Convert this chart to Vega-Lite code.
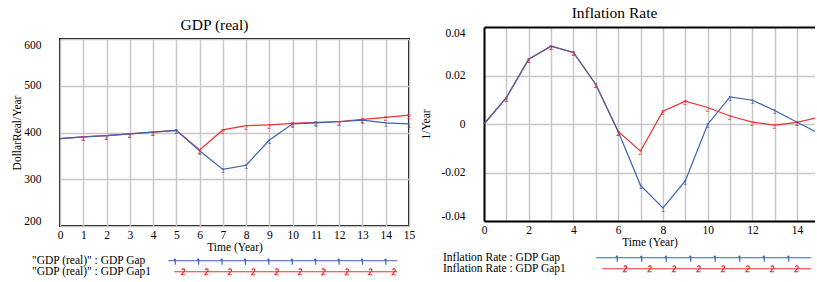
{
  "$schema": "https://vega.github.io/schema/vega-lite/v6.json",
  "padding": {"left": 10, "top": 5, "right": 0, "bottom": 0},
  "config": {
    "font": "Liberation Serif",
    "view": {"stroke": "#000", "strokeWidth": 2},
    "style": {
      "guide-label": {"font": "Liberation Serif", "fontSize": 11.5, "fill": "#000"},
      "guide-title": {"font": "Liberation Serif", "fontSize": 11.5, "fontWeight": "normal", "fill": "#000"}
    },
    "axis": {"labelFont": "Liberation Serif", "labelFontSize": 11.5, "labelColor": "#000", "titleFont": "Liberation Serif", "titleFontSize": 11.5, "titleFontWeight": "normal", "titleColor": "#000", "gridColor": "#c8c8c8", "gridWidth": 1.5, "gridOpacity": 1, "domain": false, "ticks": false},
    "legend": {"labelFont": "Liberation Serif", "labelFontSize": 11.5, "labelColor": "#000", "padding": 0, "labelLimit": 300},
    "title": {"font": "Liberation Serif", "fontSize": 15.5, "fontWeight": "normal", "color": "#000"}
  },
  "datasets": {
    "gdp": [
      {"t": 0, "run": "Gap", "series": "\"GDP (real)\" : GDP Gap", "v": 387},
      {"t": 1, "run": "Gap", "series": "\"GDP (real)\" : GDP Gap", "v": 390.5},
      {"t": 2, "run": "Gap", "series": "\"GDP (real)\" : GDP Gap", "v": 393.5},
      {"t": 3, "run": "Gap", "series": "\"GDP (real)\" : GDP Gap", "v": 397},
      {"t": 4, "run": "Gap", "series": "\"GDP (real)\" : GDP Gap", "v": 401},
      {"t": 5, "run": "Gap", "series": "\"GDP (real)\" : GDP Gap", "v": 404.5},
      {"t": 6, "run": "Gap", "series": "\"GDP (real)\" : GDP Gap", "v": 361},
      {"t": 7, "run": "Gap", "series": "\"GDP (real)\" : GDP Gap", "v": 321},
      {"t": 8, "run": "Gap", "series": "\"GDP (real)\" : GDP Gap", "v": 330},
      {"t": 9, "run": "Gap", "series": "\"GDP (real)\" : GDP Gap", "v": 384},
      {"t": 10, "run": "Gap", "series": "\"GDP (real)\" : GDP Gap", "v": 418.5},
      {"t": 11, "run": "Gap", "series": "\"GDP (real)\" : GDP Gap", "v": 420.5},
      {"t": 12, "run": "Gap", "series": "\"GDP (real)\" : GDP Gap", "v": 423},
      {"t": 13, "run": "Gap", "series": "\"GDP (real)\" : GDP Gap", "v": 426.5},
      {"t": 14, "run": "Gap", "series": "\"GDP (real)\" : GDP Gap", "v": 420.5},
      {"t": 15, "run": "Gap", "series": "\"GDP (real)\" : GDP Gap", "v": 418.5},
      {"t": 0, "run": "Gap1", "series": "\"GDP (real)\" : GDP Gap1", "v": 387},
      {"t": 1, "run": "Gap1", "series": "\"GDP (real)\" : GDP Gap1", "v": 390.5},
      {"t": 2, "run": "Gap1", "series": "\"GDP (real)\" : GDP Gap1", "v": 393.5},
      {"t": 3, "run": "Gap1", "series": "\"GDP (real)\" : GDP Gap1", "v": 397},
      {"t": 4, "run": "Gap1", "series": "\"GDP (real)\" : GDP Gap1", "v": 401},
      {"t": 5, "run": "Gap1", "series": "\"GDP (real)\" : GDP Gap1", "v": 404.5},
      {"t": 6, "run": "Gap1", "series": "\"GDP (real)\" : GDP Gap1", "v": 362.5},
      {"t": 7, "run": "Gap1", "series": "\"GDP (real)\" : GDP Gap1", "v": 405.5},
      {"t": 8, "run": "Gap1", "series": "\"GDP (real)\" : GDP Gap1", "v": 414.5},
      {"t": 9, "run": "Gap1", "series": "\"GDP (real)\" : GDP Gap1", "v": 416.5},
      {"t": 10, "run": "Gap1", "series": "\"GDP (real)\" : GDP Gap1", "v": 419.5},
      {"t": 11, "run": "Gap1", "series": "\"GDP (real)\" : GDP Gap1", "v": 421.5},
      {"t": 12, "run": "Gap1", "series": "\"GDP (real)\" : GDP Gap1", "v": 423.5},
      {"t": 13, "run": "Gap1", "series": "\"GDP (real)\" : GDP Gap1", "v": 428},
      {"t": 14, "run": "Gap1", "series": "\"GDP (real)\" : GDP Gap1", "v": 432.5},
      {"t": 15, "run": "Gap1", "series": "\"GDP (real)\" : GDP Gap1", "v": 437}
    ],
    "infl": [
      {"t": 0, "run": "Gap", "series": "Inflation Rate : GDP Gap", "v": 0},
      {"t": 1, "run": "Gap", "series": "Inflation Rate : GDP Gap", "v": 0.0109},
      {"t": 2, "run": "Gap", "series": "Inflation Rate : GDP Gap", "v": 0.0267},
      {"t": 3, "run": "Gap", "series": "Inflation Rate : GDP Gap", "v": 0.0321},
      {"t": 4, "run": "Gap", "series": "Inflation Rate : GDP Gap", "v": 0.0295},
      {"t": 5, "run": "Gap", "series": "Inflation Rate : GDP Gap", "v": 0.0163},
      {"t": 6, "run": "Gap", "series": "Inflation Rate : GDP Gap", "v": -0.0031},
      {"t": 7, "run": "Gap", "series": "Inflation Rate : GDP Gap", "v": -0.0253},
      {"t": 8, "run": "Gap", "series": "Inflation Rate : GDP Gap", "v": -0.0346},
      {"t": 9, "run": "Gap", "series": "Inflation Rate : GDP Gap", "v": -0.0235},
      {"t": 10, "run": "Gap", "series": "Inflation Rate : GDP Gap", "v": -0.0002},
      {"t": 11, "run": "Gap", "series": "Inflation Rate : GDP Gap", "v": 0.0112},
      {"t": 12, "run": "Gap", "series": "Inflation Rate : GDP Gap", "v": 0.0098},
      {"t": 13, "run": "Gap", "series": "Inflation Rate : GDP Gap", "v": 0.0056},
      {"t": 14, "run": "Gap", "series": "Inflation Rate : GDP Gap", "v": 0.0007},
      {"t": 15, "run": "Gap", "series": "Inflation Rate : GDP Gap", "v": -0.004},
      {"t": 0, "run": "Gap1", "series": "Inflation Rate : GDP Gap1", "v": 0},
      {"t": 1, "run": "Gap1", "series": "Inflation Rate : GDP Gap1", "v": 0.0109},
      {"t": 2, "run": "Gap1", "series": "Inflation Rate : GDP Gap1", "v": 0.0267},
      {"t": 3, "run": "Gap1", "series": "Inflation Rate : GDP Gap1", "v": 0.0321},
      {"t": 4, "run": "Gap1", "series": "Inflation Rate : GDP Gap1", "v": 0.0295},
      {"t": 5, "run": "Gap1", "series": "Inflation Rate : GDP Gap1", "v": 0.0163},
      {"t": 6, "run": "Gap1", "series": "Inflation Rate : GDP Gap1", "v": -0.0031},
      {"t": 7, "run": "Gap1", "series": "Inflation Rate : GDP Gap1", "v": -0.0112},
      {"t": 8, "run": "Gap1", "series": "Inflation Rate : GDP Gap1", "v": 0.0053},
      {"t": 9, "run": "Gap1", "series": "Inflation Rate : GDP Gap1", "v": 0.0094},
      {"t": 10, "run": "Gap1", "series": "Inflation Rate : GDP Gap1", "v": 0.0068},
      {"t": 11, "run": "Gap1", "series": "Inflation Rate : GDP Gap1", "v": 0.0033},
      {"t": 12, "run": "Gap1", "series": "Inflation Rate : GDP Gap1", "v": 0.0008},
      {"t": 13, "run": "Gap1", "series": "Inflation Rate : GDP Gap1", "v": -0.0005},
      {"t": 14, "run": "Gap1", "series": "Inflation Rate : GDP Gap1", "v": 0.0007},
      {"t": 15, "run": "Gap1", "series": "Inflation Rate : GDP Gap1", "v": 0.0028}
    ]
  },
  "resolve": {"scale": {"color": "independent", "stroke": "independent"}, "legend": {"color": "independent", "stroke": "independent"}},
  "spacing": 4,
  "hconcat": [
    {
      "spacing": 4,
      "resolve": {"scale": {"color": "independent", "stroke": "independent"}, "legend": {"color": "independent", "stroke": "independent"}},
      "vconcat": [
        {
          "width": 349, "height": 1,
          "data": {"values": [{}]},
          "mark": {"type": "text", "text": ""},
          "view": {"stroke": null},
          "title": {"text": "GDP (real)", "dx": -20, "offset": -12}
        },
        {
          "width": 349, "height": 187,
          "data": {"name": "gdp"},
          "encoding": {
            "x": {"field": "t", "type": "quantitative", "scale": {"domain": [0, 15], "nice": false},
                  "axis": {"values": [0,1,2,3,4,5,6,7,8,9,10,11,12,13,14,15], "grid": true, "labelPadding": 3, "title": "Time (Year)", "titlePadding": 1, "labelFlush": false}},
            "y": {"field": "v", "type": "quantitative", "scale": {"domain": [200, 600], "nice": false, "zero": false},
                  "axis": {"values": [200,300,400,500,600], "grid": true, "labelPadding": 19, "labelFlush": true, "title": "DollarReal/Year", "titlePadding": 1}}
          },
          "layer": [
            {
              "transform": [{"filter": "datum.run == 'Gap1'"}],
              "mark": {"type": "line", "strokeWidth": 1.2},
              "encoding": {
                "color": {"field": "series", "type": "nominal", "scale": {"range": ["#ee3333"]},
                  "legend": {"orient": "none", "legendX": 220, "legendY": 227, "title": null, "symbolOffset": 0, "labelOffset": -259.5, "labelAlign": "left",
                    "symbolSize": 4, "symbolStrokeWidth": 1.2,
                    "symbolType": "M-111.5,0H111.5M-104,-1.8L-102.8,-3L-101.3,-2.6L-101.1,-1.2L-104.3,3L-100.7,3M-80.6,-1.8L-79.4,-3L-77.9,-2.6L-77.7,-1.2L-80.9,3L-77.3,3M-57.2,-1.8L-56,-3L-54.5,-2.6L-54.3,-1.2L-57.5,3L-53.9,3M-33.8,-1.8L-32.6,-3L-31.1,-2.6L-30.9,-1.2L-34.1,3L-30.5,3M-10.4,-1.8L-9.2,-3L-7.7,-2.6L-7.5,-1.2L-10.7,3L-7.1,3M13,-1.8L14.2,-3L15.7,-2.6L15.9,-1.2L12.7,3L16.3,3M36.4,-1.8L37.6,-3L39.1,-2.6L39.3,-1.2L36.1,3L39.7,3M59.8,-1.8L61,-3L62.5,-2.6L62.7,-1.2L59.5,3L63.1,3M83.2,-1.8L84.4,-3L85.9,-2.6L86.1,-1.2L82.9,3L86.5,3M106.6,-1.8L107.8,-3L109.3,-2.6L109.5,-1.2L106.3,3L109.9,3",
                    "encode": {"symbols": {"update": {"fill": {"value": "transparent"}}}}}}
              }
            },
            {
              "transform": [{"filter": "datum.run == 'Gap'"}],
              "mark": {"type": "line", "strokeWidth": 1.2},
              "encoding": {
                "stroke": {"field": "series", "type": "nominal", "scale": {"range": ["#3c62b0"]},
                  "legend": {"orient": "none", "legendX": 217, "legendY": 216, "title": null, "symbolOffset": 0, "labelOffset": -256.5, "labelAlign": "left",
                    "symbolSize": 4, "symbolStrokeWidth": 1.2,
                    "symbolType": "M-114.5,0H114.5M-107.5,-2V4M-108.8,-0.8L-107.5,-2M-84.1,-2V4M-85.4,-0.8L-84.1,-2M-60.7,-2V4M-62,-0.8L-60.7,-2M-37.3,-2V4M-38.6,-0.8L-37.3,-2M-13.9,-2V4M-15.2,-0.8L-13.9,-2M9.5,-2V4M8.2,-0.8L9.5,-2M32.9,-2V4M31.6,-0.8L32.9,-2M56.3,-2V4M55,-0.8L56.3,-2M79.7,-2V4M78.4,-0.8L79.7,-2M103.1,-2V4M101.8,-0.8L103.1,-2",
                    "encode": {"symbols": {"update": {"fill": {"value": "transparent"}}}}}}
              }
            },
            {
              "transform": [{"filter": "datum.run == 'Gap' && datum.t > 0"}],
              "mark": {"type": "text", "text": "1", "font": "Liberation Sans", "fontSize": 7, "color": "#3c62b0", "dy": 2, "baseline": "middle"}
            },
            {
              "transform": [{"filter": "datum.run == 'Gap1' && datum.t > 0"}],
              "mark": {"type": "text", "text": "2", "font": "Liberation Sans", "fontSize": 7, "color": "#ee3333", "dy": 2, "baseline": "middle"}
            }
          ]
        }
      ]
    },
    {
      "width": 331, "height": 194,
      "data": {"name": "infl"},
      "view": {"stroke": null},
      "title": {"text": "Inflation Rate", "offset": 6, "dx": -35},
      "encoding": {
        "x": {"field": "t", "type": "quantitative", "scale": {"domain": [0, 14.8], "nice": false},
              "axis": {"values": [0,1,2,3,4,5,6,7,8,9,10,11,12,13,14], "labelExpr": "datum.value % 2 == 0 ? datum.label : ''", "grid": true, "domain": true, "domainColor": "#000", "domainWidth": 2, "labelPadding": 3, "title": "Time (Year)", "titlePadding": 1, "labelFlush": false}},
        "y": {"field": "v", "type": "quantitative", "scale": {"domain": [-0.04, 0.04], "nice": false, "zero": false},
              "axis": {"values": [-0.04,-0.02,0,0.02,0.04], "labelExpr": "datum.value == 0 ? '0' : replace(format(datum.value, '.2f'), '\u2212', '-')", "grid": true,
                       "gridColor": {"condition": {"test": "datum.value > 0.039", "value": "#000"}, "value": "#c8c8c8"},
                       "gridWidth": {"condition": {"test": "datum.value > 0.039", "value": 2}, "value": 1.5},
                       "domain": true, "domainColor": "#000", "domainWidth": 2, "labelPadding": 19, "labelFlush": true, "title": "1/Year", "titlePadding": 10}}
      },
      "layer": [
        {
          "transform": [{"filter": "datum.run == 'Gap1'"}],
          "mark": {"type": "line", "strokeWidth": 1.2, "clip": true},
          "encoding": {
            "color": {"field": "series", "type": "nominal", "scale": {"range": ["#ee3333"]},
              "legend": {"orient": "none", "legendX": 217, "legendY": 236, "title": null, "symbolOffset": 0, "labelOffset": -269.5, "labelAlign": "left",
                "symbolSize": 4, "symbolStrokeWidth": 1.2,
                "symbolType": "M-104.5,0H104.5M-83,-1.8L-81.8,-3L-80.3,-2.6L-80.1,-1.2L-83.3,3L-79.7,3M-58.5,-1.8L-57.3,-3L-55.8,-2.6L-55.6,-1.2L-58.8,3L-55.2,3M-34,-1.8L-32.8,-3L-31.3,-2.6L-31.1,-1.2L-34.3,3L-30.7,3M-9.5,-1.8L-8.3,-3L-6.8,-2.6L-6.6,-1.2L-9.8,3L-6.2,3M15,-1.8L16.2,-3L17.7,-2.6L17.9,-1.2L14.7,3L18.3,3M39.5,-1.8L40.7,-3L42.2,-2.6L42.4,-1.2L39.2,3L42.8,3M64,-1.8L65.2,-3L66.7,-2.6L66.9,-1.2L63.7,3L67.3,3M88.5,-1.8L89.7,-3L91.2,-2.6L91.4,-1.2L88.2,3L91.8,3",
                "encode": {"symbols": {"update": {"fill": {"value": "transparent"}}}}}}
          }
        },
        {
          "transform": [{"filter": "datum.run == 'Gap'"}],
          "mark": {"type": "line", "strokeWidth": 1.2, "clip": true},
          "encoding": {
            "stroke": {"field": "series", "type": "nominal", "scale": {"range": ["#3c62b0"]},
              "legend": {"orient": "none", "legendX": 214, "legendY": 225, "title": null, "symbolOffset": 0, "labelOffset": -266.5, "labelAlign": "left",
                "symbolSize": 4, "symbolStrokeWidth": 1.2,
                "symbolType": "M-107.5,0H107.5M-86.5,-2V4M-87.8,-0.8L-86.5,-2M-62,-2V4M-63.3,-0.8L-62,-2M-37.5,-2V4M-38.8,-0.8L-37.5,-2M-13,-2V4M-14.3,-0.8L-13,-2M11.5,-2V4M10.2,-0.8L11.5,-2M36,-2V4M34.7,-0.8L36,-2M60.5,-2V4M59.2,-0.8L60.5,-2M85,-2V4M83.7,-0.8L85,-2",
                "encode": {"symbols": {"update": {"fill": {"value": "transparent"}}}}}}
          }
        },
        {
          "transform": [{"filter": "datum.run == 'Gap' && datum.t > 0 && datum.t < 15"}],
          "mark": {"type": "text", "text": "1", "font": "Liberation Sans", "fontSize": 7, "color": "#3c62b0", "dy": 2, "baseline": "middle", "clip": true}
        },
        {
          "transform": [{"filter": "datum.run == 'Gap1' && datum.t > 0 && datum.t < 15"}],
          "mark": {"type": "text", "text": "2", "font": "Liberation Sans", "fontSize": 7, "color": "#ee3333", "dy": 2, "baseline": "middle", "clip": true}
        }
      ]
    }
  ]
}
